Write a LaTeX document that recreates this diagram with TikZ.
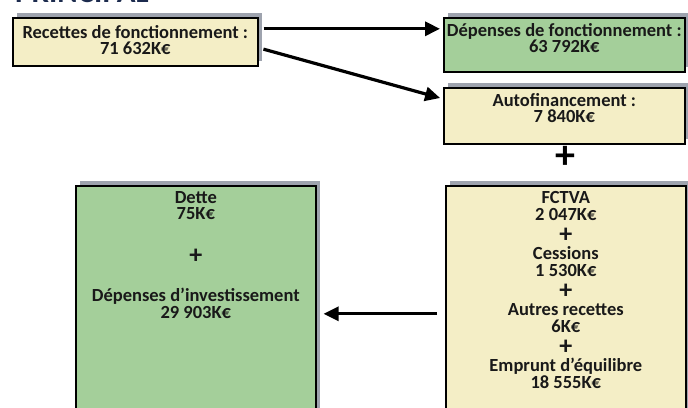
\documentclass[tikz,border=0pt]{standalone}
\usepackage{fontspec}
\setmainfont{Carlito}
\usepackage{xcolor}
\usepackage{tikz}
\usetikzlibrary{positioning}
\usetikzlibrary{shadows}
\usetikzlibrary{arrows.meta}
\definecolor{boxyellow}{HTML}{F4EEC6}
\definecolor{boxgreen}{HTML}{A4CF9A}
\definecolor{shadowgrey}{HTML}{9EA3AE}
\definecolor{titlenavy}{HTML}{1C2B4E}
\newcommand{\plusbig}{\smash{\raisebox{-3pt}{\fontsize{26}{26}\selectfont +}}}
\newcommand{\boxfont}{\bfseries\fontsize{18.5}{16.7}\selectfont\lineskiplimit=-100pt\relax}
\tikzset{
    mybox/.style = {rectangle, draw=black, line width=1.6pt, anchor=north west, inner sep=0pt,
        general shadow={fill=shadowgrey, shadow xshift=4pt, shadow yshift=5pt}},
    myboxy/.style = {mybox, fill=boxyellow},
    myboxg/.style = {mybox, fill=boxgreen},
    boxtext/.style = {align=center, inner sep=0pt, text=black!90, font=\boxfont},
    flow/.style = {-{Triangle[length=15pt,width=14pt]}, line width=3.2pt},
}

\begin{document}
\begin{tikzpicture}[
	x=1pt, y=-1pt
]
\useasboundingbox (0,0) rectangle (688,407);
\node[anchor=base west, inner sep=0pt, text=titlenavy, font=\bfseries\fontsize{31}{31}\selectfont] at (15,2) (titre) {PRINCIPAL};
%
\node[myboxy, minimum width=245pt, minimum height=48pt] at (12,17) (rec) {};
\node[myboxg, minimum width=241pt, minimum height=54pt] at (443,17) (dep) {};
\node[myboxy, minimum width=241pt, minimum height=56pt] at (443,87) (auto) {};
\node[myboxy, minimum width=240pt, minimum height=230pt] at (445,185) (fct) {};
\node[myboxg, minimum width=240pt, minimum height=230pt] at (75,185) (inv) {};
%
\node[boxtext, below=8pt of rec.north] (rect) {Recettes de fonctionnement :\\71 632K€};
\node[boxtext, below=6pt of dep.north] (dept) {Dépenses de fonctionnement :\\63 792K€};
\node[boxtext, below=6pt of auto.north] (autot) {Autofinancement :\\7 840K€};
\node[boxtext, below=6pt of fct.north] (fctt) {FCTVA\\2 047K€\\[3pt]\plusbig\\[3pt]Cessions\\1 530K€\\[3pt]\plusbig\\[3pt]Autres recettes\\6K€\\[3pt]\plusbig\\[3pt]Emprunt d’équilibre\\18 555K€};
\node[boxtext, below=6pt of inv.north] (invt) {Dette\\75K€\\[24pt]\plusbig\\[24pt]Dépenses d’investissement\\29 903K€};
%
\node[font=\bfseries\fontsize{40}{40}\selectfont, inner sep=0pt] at (565,157) (plus) {+};
%
\draw[flow, shorten <=5pt, shorten >=3pt] ([yshift=13pt]rec.east) -- ([yshift=13pt]rec.east -| dep.west);
\draw[flow, shorten <=5pt, shorten >=3pt] ([yshift=-6pt]rec.east) -- ([yshift=17pt]auto.west);
\draw[flow, shorten <=8pt, shorten >=7pt] ([yshift=-13pt]fct.west) -- ([yshift=-13pt]fct.west -| inv.east);
\end{tikzpicture}
\end{document}
